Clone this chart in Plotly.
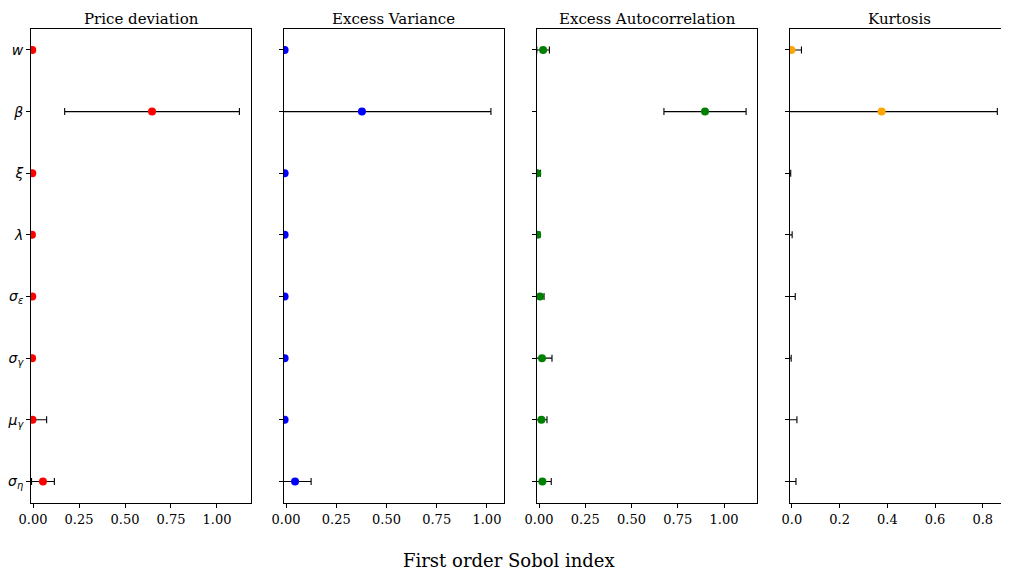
import plotly.graph_objects as go

params = ["<i>w</i>", "<i>β</i>", "<i>ξ</i>", "<i>λ</i>",
          "<i>σ</i><sub><i>ε</i></sub>", "<i>σ</i><sub><i>γ</i></sub>",
          "<i>μ</i><sub><i>γ</i></sub>", "<i>σ</i><sub><i>η</i></sub>"]

titles = ["Price deviation", "Excess Variance", "Excess Autocorrelation", "Kurtosis"]
colors = ["red", "blue", "green", "orange"]

price_dev = [-0.004, 0.647, -0.004, -0.006, -0.004, -0.005, -0.003, 0.054]
price_dev_err = [0.0, 0.475, 0.0, 0.0, 0.0, 0.0, 0.077, 0.062]

excess_var = [-0.007, 0.378, -0.007, -0.007, -0.007, -0.007, -0.007, 0.045]
excess_var_err = [0.0, 0.642, 0.0, 0.0, 0.0, 0.0, 0.0, 0.08]

excess_ac = [0.022, 0.897, -0.01, -0.01, 0.005, 0.016, 0.013, 0.018]
excess_ac_err = [0.034, 0.222, 0.018, 0.015, 0.022, 0.054, 0.03, 0.048]

kurtosis = [-0.002, 0.376, -0.03, -0.03, -0.03, -0.03, -0.03, -0.03]
kurtosis_err = [0.042, 0.485, 0.025, 0.031, 0.044, 0.027, 0.051, 0.047]

values = [price_dev, excess_var, excess_ac, kurtosis]
errors = [price_dev_err, excess_var_err, excess_ac_err, kurtosis_err]

x_ranges = [[-0.011, 1.185], [-0.01, 1.085], [-0.011, 1.178], [-0.008, 0.91]]
x_ticks = [[0, 0.25, 0.5, 0.75, 1.0], [0, 0.25, 0.5, 0.75, 1.0],
           [0, 0.25, 0.5, 0.75, 1.0], [0, 0.2, 0.4, 0.6, 0.8]]
x_ticktext = [["0.00", "0.25", "0.50", "0.75", "1.00"]] * 3 + [["0.0", "0.2", "0.4", "0.6", "0.8"]]

W = 978.0
domains = [[0, 220 / W], [253 / W, 473 / W], [506 / W, 726 / W], [759 / W, 1.0]]

fig = go.Figure()
ypos = list(range(len(params)))
for i in range(4):
    ax = "" if i == 0 else str(i + 1)
    fig.add_trace(go.Scatter(
        x=values[i], y=ypos, mode="markers",
        marker=dict(color=colors[i], size=8),
        error_x=dict(type="data", array=errors[i], color="black", thickness=1.1, width=3.5),
        xaxis="x" + ax, yaxis="y" + ax, showlegend=False, cliponaxis=True,
    ))
    fig.layout["xaxis" + ax] = dict(
        domain=domains[i], range=x_ranges[i], tickvals=x_ticks[i], ticktext=x_ticktext[i],
        showgrid=False, zeroline=False, showline=True, linecolor="black", linewidth=1,
        mirror=True, ticks="outside", ticklen=4, tickwidth=1, tickcolor="black",
        anchor="y" + ax, automargin=False,
        tickfont=dict(family="DejaVu Serif", size=13, color="black"),
    )
    yax = dict(
        domain=[0, 1], range=[7.35, -0.34], tickvals=ypos,
        showticklabels=(i == 0),
        showgrid=False, zeroline=False, showline=True, linecolor="black", linewidth=1,
        mirror=True, ticks="outside", ticklen=4, tickwidth=1, tickcolor="black",
        anchor="x" + ax, automargin=False,
        tickfont=dict(family="DejaVu Sans", size=14, color="black"),
    )
    if i == 0:
        yax["ticktext"] = params
    fig.layout["yaxis" + ax] = yax
    fig.add_annotation(
        text=titles[i], x=(domains[i][0] + domains[i][1]) / 2, y=1.0,
        xref="paper", yref="paper", xanchor="center", yanchor="bottom", yshift=0,
        borderpad=0,
        showarrow=False, font=dict(family="DejaVu Serif", size=15, color="black"),
    )

fig.add_annotation(
    text="First order Sobol index", x=(509 - 31) / W, y=-0.122,
    xref="paper", yref="paper", xanchor="center", yanchor="middle",
    showarrow=False, font=dict(family="DejaVu Serif", size=18, color="black"),
)

# page body has an 8px default margin; compensate so the plot area lands where the reference has it
fig.update_layout(
    width=1001, height=571,
    margin=dict(l=23, r=0, t=21, b=76, autoexpand=False),
    plot_bgcolor="white", paper_bgcolor="white",
)

fig.write_html("out.html")
